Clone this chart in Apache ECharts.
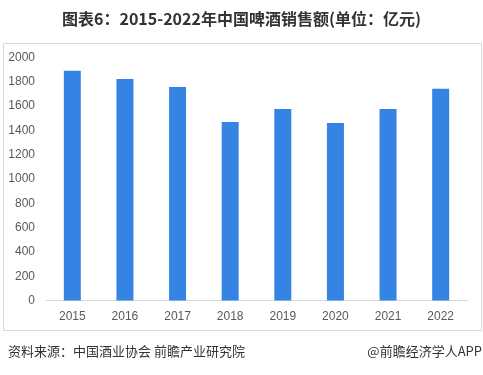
<!DOCTYPE html>
<html>
<head>
<meta charset="utf-8">
<script src="https://cdn.jsdelivr.net/npm/echarts@6/dist/echarts.min.js"></script>
<style>
  html, body { margin: 0; padding: 0; background: #fff; }
  #chart { width: 483px; height: 375px; }
</style>
</head>
<body>
<div id="chart"></div>
<script>
const years = ['2015', '2016', '2017', '2018', '2019', '2020', '2021', '2022'];
const sales = [1890, 1823, 1757, 1469, 1576, 1461, 1576, 1743];
const yTicks = { min: 0, max: 2000, interval: 200 };

const font = '"Noto Sans CJK SC", "Microsoft YaHei", sans-serif';

const chart = echarts.init(document.getElementById('chart'));

const option = {
  animation: false,
  backgroundColor: '#fff',
  title: {
    text: '图表6：2015-2022年中国啤酒销售额(单位：亿元)',
    left: 'center',
    top: 6,
    textStyle: {
      color: '#333',
      fontSize: 16,
      fontWeight: 'bold',
      fontFamily: font,
    },
  },
  grid: {
    left: 46,
    right: 16,
    top: 57.5,
    bottom: 74.5,
  },
  xAxis: {
    type: 'category',
    data: years,
    axisTick: { show: false },
    axisLine: { lineStyle: { color: '#d9d9d9', width: 1 } },
    axisLabel: {
      color: '#595959',
      fontSize: 12,
      fontFamily: 'Arial, "Liberation Sans", sans-serif',
      margin: 10,
    },
  },
  yAxis: {
    type: 'value',
    min: yTicks.min,
    max: yTicks.max,
    interval: yTicks.interval,
    splitLine: { show: false },
    axisLine: { show: false },
    axisTick: { show: false },
    axisLabel: {
      color: '#595959',
      fontSize: 12,
      fontFamily: 'Arial, "Liberation Sans", sans-serif',
      margin: 11,
      formatter: (v) => String(v),
    },
  },
  series: [
    {
      type: 'bar',
      data: sales,
      barWidth: 17,
      itemStyle: { color: '#3584e4' },
    },
  ],
  graphic: [
    {
      type: 'rect',
      shape: { x: 3.5, y: 43.5, width: 478, height: 287 },
      style: { fill: 'none', stroke: '#d9d9d9', lineWidth: 1 },
      z: -1,
    },
    {
      type: 'text',
      left: 8,
      top: 345,
      style: {
        text: '资料来源：中国酒业协会 前瞻产业研究院',
        fill: '#333',
        font: '13px ' + font,
      },
    },
    {
      type: 'text',
      right: 1,
      top: 345,
      style: {
        text: '@前瞻经济学人APP',
        fill: '#333',
        font: '13px ' + font,
      },
    },
  ],
};

chart.setOption(option);
</script>
</body>
</html>
